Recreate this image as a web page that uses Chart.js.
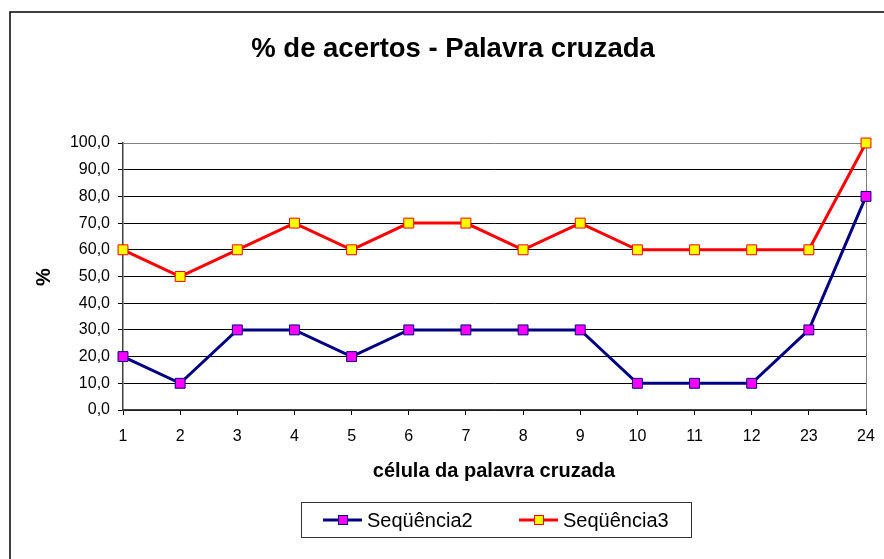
<!DOCTYPE html>
<html>
<head>
<meta charset="utf-8">
<title>% de acertos - Palavra cruzada</title>
<script src="https://cdn.jsdelivr.net/npm/chart.js@4"></script>
<style>
  html, body { margin: 0; padding: 0; background: #fff; }
  #wrap { position: relative; width: 884px; height: 559px; }
</style>
</head>
<body>
<div id="wrap"><canvas id="chart" width="884" height="559"></canvas></div>
<script>
// data
const cells = ['1', '2', '3', '4', '5', '6', '7', '8', '9', '10', '11', '12', '23', '24'];
const seq2 = [20, 10, 30, 30, 20, 30, 30, 30, 30, 10, 10, 10, 30, 80];
const seq3 = [60, 50, 60, 70, 60, 70, 70, 60, 70, 60, 60, 60, 60, 100];
const seriesNames = ['Seqüência2', 'Seqüência3'];

const titleText = '% de acertos - Palavra cruzada';
const xTitle = 'célula da palavra cruzada';
const yTitle = '%';

const FONT = '"Liberation Sans", Arial, Helvetica, sans-serif';

// frame, titles and legend box, drawn after the chart
const decorPlugin = {
    id: 'decor',
    afterDraw(chart) {
        const ctx = chart.ctx;
        ctx.save();

        // outer chart border (runs off the page to the right and bottom)
        ctx.strokeStyle = '#000';
        ctx.lineWidth = 1.5;
        ctx.strokeRect(10, 12, 900, 600);

        ctx.fillStyle = '#000';
        ctx.textAlign = 'center';
        ctx.textBaseline = 'middle';

        ctx.font = 'bold 27.5px ' + FONT;
        ctx.fillText(titleText, 453, 49);

        ctx.font = 'bold 20px ' + FONT;
        ctx.fillText(xTitle, 494, 471);

        ctx.save();
        ctx.translate(44, 277);
        ctx.rotate(-Math.PI / 2);
        ctx.fillText(yTitle, 0, 0);
        ctx.restore();

        // legend box
        ctx.strokeStyle = '#333';
        ctx.lineWidth = 1;
        ctx.strokeRect(301.5, 502.5, 390, 35);

        const items = [{ x: 323, textX: 367 }, { x: 519, textX: 563 }];
        ctx.font = '20px ' + FONT;
        ctx.textAlign = 'left';
        chart.data.datasets.forEach((ds, i) => {
            const it = items[i];
            const y = 520;
            ctx.strokeStyle = ds.borderColor;
            ctx.lineWidth = ds.borderWidth;
            ctx.beginPath();
            ctx.moveTo(it.x, y);
            ctx.lineTo(it.x + 39, y);
            ctx.stroke();
            ctx.fillStyle = ds.pointBackgroundColor;
            ctx.fillRect(it.x + 15, y - 5, 10, 10);
            ctx.strokeStyle = ds.pointBorderColor;
            ctx.lineWidth = 1;
            ctx.strokeRect(it.x + 15.5, y - 4.5, 9, 9);
            ctx.fillStyle = '#000';
            ctx.fillText(ds.label, it.textX, y + 1);
        });

        ctx.restore();
    }
};

function initChart() {
    const canvas = document.getElementById('chart');
    new Chart(canvas.getContext('2d'), {
        type: 'line',
        data: {
            labels: cells,
            datasets: [{
                label: seriesNames[0],
                data: seq2,
                borderColor: '#000080',
                borderWidth: 3,
                pointStyle: 'rect',
                pointRadius: 7,
                pointHoverRadius: 7,
                pointBackgroundColor: '#FF00FF',
                pointBorderColor: '#000080',
                pointBorderWidth: 1,
                tension: 0,
                clip: false
            }, {
                label: seriesNames[1],
                data: seq3,
                borderColor: '#FF0000',
                borderWidth: 3,
                pointStyle: 'rect',
                pointRadius: 7,
                pointHoverRadius: 7,
                pointBackgroundColor: '#FFFF00',
                pointBorderColor: '#FF0000',
                pointBorderWidth: 1,
                tension: 0,
                clip: false
            }]
        },
        options: {
            responsive: false,
            animation: false,
            layout: { autoPadding: false, padding: { top: 143, right: 18, left: 0, bottom: 0 } },
            plugins: {
                legend: { display: false },
                title: { display: false },
                tooltip: { enabled: false }
            },
            scales: {
                x: {
                    type: 'category',
                    offset: false,
                    afterFit: (scale) => {
                        scale.height = 149;
                        scale.paddingLeft = 0;
                        scale.paddingRight = 0;
                    },
                    grid: {
                        drawOnChartArea: true,
                        color: (c) => c.index === cells.length - 1 ? '#808080' : 'rgba(0,0,0,0)',
                        tickColor: '#000',
                        tickLength: 5
                    },
                    border: { color: '#404040', width: 1.5 },
                    ticks: {
                        color: '#000',
                        font: { family: FONT, size: 16 },
                        padding: 12,
                        maxRotation: 0,
                        autoSkip: false
                    }
                },
                y: {
                    min: 0,
                    max: 100,
                    afterFit: (scale) => { scale.width = 123; },
                    grid: {
                        color: (c) => c.tick && c.tick.value === 100 ? '#808080' : '#000',
                        tickColor: '#000',
                        tickLength: 5
                    },
                    border: { color: '#404040', width: 1.5 },
                    ticks: {
                        stepSize: 10,
                        color: '#000',
                        font: { family: FONT, size: 16 },
                        padding: 8,
                        callback: (v) => v.toFixed(1).replace('.', ',')
                    }
                }
            }
        },
        plugins: [decorPlugin]
    });
}

document.addEventListener('DOMContentLoaded', initChart);
</script>
</body>
</html>
